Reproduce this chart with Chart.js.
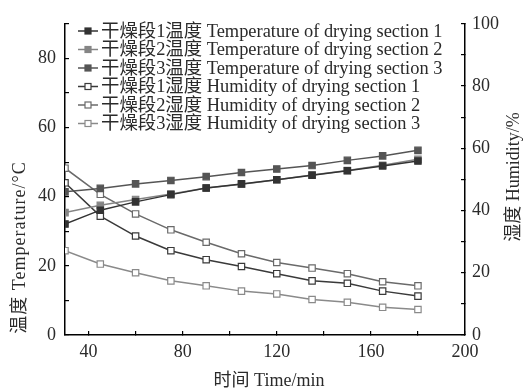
<!DOCTYPE html>
<html>
<head>
<meta charset="utf-8">
<script src="https://cdn.jsdelivr.net/npm/chart.js@4/dist/chart.umd.min.js"></script>
<style>
  html, body { margin: 0; padding: 0; background: #fff; }
  #wrap { width: 528px; height: 391px; }
</style>
</head>
<body>
<div id="wrap"><canvas id="myChart" width="528" height="391"></canvas></div>
<script>
const TIMES = [30, 45, 60, 75, 90, 105, 120, 135, 150, 165, 180];

const TEMP_1 = [32.1, 36.1, 38.5, 40.6, 42.5, 43.7, 44.9, 46.2, 47.5, 48.9, 50.3];
const TEMP_2 = [35.4, 37.5, 39.2, 40.8, 42.5, 43.6, 44.9, 46.3, 47.6, 49.1, 50.8];
const TEMP_3 = [41.4, 42.4, 43.7, 44.7, 45.8, 47.0, 48.0, 49.0, 50.5, 51.8, 53.4];

const HUM_1 = [48.9, 38.2, 31.8, 27.1, 24.2, 22.0, 19.7, 17.4, 16.6, 14.1, 12.5];
const HUM_2 = [53.6, 45.2, 38.9, 33.8, 29.8, 26.1, 23.3, 21.5, 19.7, 17.1, 15.8];
const HUM_3 = [27.1, 22.8, 20.0, 17.4, 15.8, 14.1, 13.2, 11.4, 10.5, 8.9, 8.2];

const LABELS = [
    '干燥段1温度 Temperature of drying section 1',
    '干燥段2温度 Temperature of drying section 2',
    '干燥段3温度 Temperature of drying section 3',
    '干燥段1湿度 Humidity of drying section 1',
    '干燥段2湿度 Humidity of drying section 2',
    '干燥段3湿度 Humidity of drying section 3'
];

const X_TICKS = [40, 60, 80, 100, 120, 140, 160, 180, 200];
const TEMP_TICKS = [0, 10, 20, 30, 40, 50, 60, 70, 80, 90];
const HUM_TICKS = [0, 10, 20, 30, 40, 50, 60, 70, 80, 90, 100];

const X_TITLE = '时间 Time/min';
const TEMP_TITLE = '温度 Temperature/°C';
const HUM_TITLE = '湿度 Humidity/%';

const FONT = '"Liberation Serif", "Noto Sans CJK SC", serif';
const TEXT_COLOR = '#2a2a2a';

function points(values) {
    return TIMES.map((t, i) => ({x: t, y: values[i]}));
}

function series(label, values, axis, color, filled) {
    return {
        label: label,
        data: points(values),
        yAxisID: axis,
        borderColor: color,
        backgroundColor: filled ? color : '#fff',
        pointBackgroundColor: filled ? color : '#fff',
        pointBorderColor: color,
        pointStyle: 'rect',
        pointRadius: 4.5,
        pointBorderWidth: 1.2,
        borderWidth: 1.5,
        fill: false
    };
}

const datasets = [
    series(LABELS[0], TEMP_1, 'y', '#333333', true),
    series(LABELS[1], TEMP_2, 'y', '#858585', true),
    series(LABELS[2], TEMP_3, 'y', '#555555', true),
    series(LABELS[3], HUM_1, 'y1', '#3a3a3a', false),
    series(LABELS[4], HUM_2, 'y1', '#6a6a6a', false),
    series(LABELS[5], HUM_3, 'y1', '#8a8a8a', false)
];

// legend drawn inside the plot, one row per dataset
const insideLegend = {
    id: 'insideLegend',
    afterDraw(chart) {
        const ctx = chart.ctx;
        ctx.save();
        ctx.font = '18.4px ' + FONT;
        ctx.textBaseline = 'middle';
        ctx.textAlign = 'left';
        chart.data.datasets.forEach((ds, i) => {
            const y = 31 + i * 18.5;
            ctx.strokeStyle = ds.borderColor;
            ctx.lineWidth = 1.5;
            ctx.beginPath();
            ctx.moveTo(78, y);
            ctx.lineTo(98, y);
            ctx.stroke();
            ctx.fillStyle = ds.pointBackgroundColor;
            ctx.lineWidth = 1.2;
            ctx.fillRect(85, y - 3, 6, 6);
            ctx.strokeRect(85, y - 3, 6, 6);
            ctx.fillStyle = TEXT_COLOR;
            ctx.fillText(ds.label, 101, y + 1);
        });
        ctx.restore();
    }
};

// vertical axis title, reading bottom to top
function verticalTitle(ctx, text, cx, cy, spacing) {
    ctx.save();
    ctx.translate(cx, cy);
    ctx.rotate(-Math.PI / 2);
    ctx.letterSpacing = spacing + 'px';
    ctx.fillText(text, spacing / 2, 0);
    ctx.restore();
}

const axisTitles = {
    id: 'axisTitles',
    afterDraw(chart) {
        const ctx = chart.ctx;
        ctx.save();
        ctx.font = '18px ' + FONT;
        ctx.fillStyle = TEXT_COLOR;
        ctx.textAlign = 'center';
        ctx.textBaseline = 'middle';
        ctx.fillText(X_TITLE, 269, 381);
        verticalTitle(ctx, TEMP_TITLE, 20, 248, 1);
        verticalTitle(ctx, HUM_TITLE, 514, 177, 0);
        ctx.restore();
    }
};

function fixedTicks(list) {
    return function (scale) {
        scale.ticks = list.map(v => ({value: v}));
    };
}

const tickFont = {family: FONT, size: 18};

const config = {
    type: 'line',
    data: {datasets: datasets},
    options: {
        responsive: false,
        animation: false,
        layout: {padding: {top: 17, left: 0, right: 0, bottom: 0}},
        elements: {
            line: {tension: 0}
        },
        plugins: {
            legend: {display: false},
            tooltip: {enabled: false}
        },
        scales: {
            x: {
                type: 'linear',
                position: 'bottom',
                min: 30,
                max: 200,
                afterBuildTicks: fixedTicks(X_TICKS),
                afterFit(scale) { scale.height = 56; },
                border: {display: true, color: '#000', width: 1.5},
                grid: {drawOnChartArea: false, drawTicks: true, tickLength: -4, color: '#000', lineWidth: 1.2},
                ticks: {
                    padding: 10,
                    color: TEXT_COLOR,
                    font: tickFont,
                    maxRotation: 0,
                    autoSkip: false,
                    callback: v => (v % 40 === 0 ? v : '')
                }
            },
            y: {
                type: 'linear',
                position: 'left',
                min: 0,
                max: 90,
                afterBuildTicks: fixedTicks(TEMP_TICKS),
                afterFit(scale) { scale.width = 65; },
                border: {display: true, color: '#000', width: 1.5},
                grid: {drawOnChartArea: false, drawTicks: true, tickLength: -4, color: '#000', lineWidth: 1.2},
                ticks: {
                    padding: 13,
                    color: TEXT_COLOR,
                    font: tickFont,
                    autoSkip: false,
                    callback: v => (v % 20 === 0 ? v : '')
                }
            },
            y1: {
                type: 'linear',
                position: 'right',
                min: 0,
                max: 100,
                afterBuildTicks: fixedTicks(HUM_TICKS),
                afterFit(scale) { scale.width = 63; },
                border: {display: true, color: '#000', width: 1.5},
                grid: {drawOnChartArea: false, drawTicks: true, tickLength: -4, color: '#000', lineWidth: 1.2},
                ticks: {
                    padding: 11,
                    color: TEXT_COLOR,
                    font: tickFont,
                    autoSkip: false,
                    callback: v => (v % 20 === 0 ? v : '')
                }
            }
        }
    },
    plugins: [insideLegend, axisTitles]
};

const myChart = new Chart(document.getElementById('myChart'), config);
</script>
</body>
</html>
